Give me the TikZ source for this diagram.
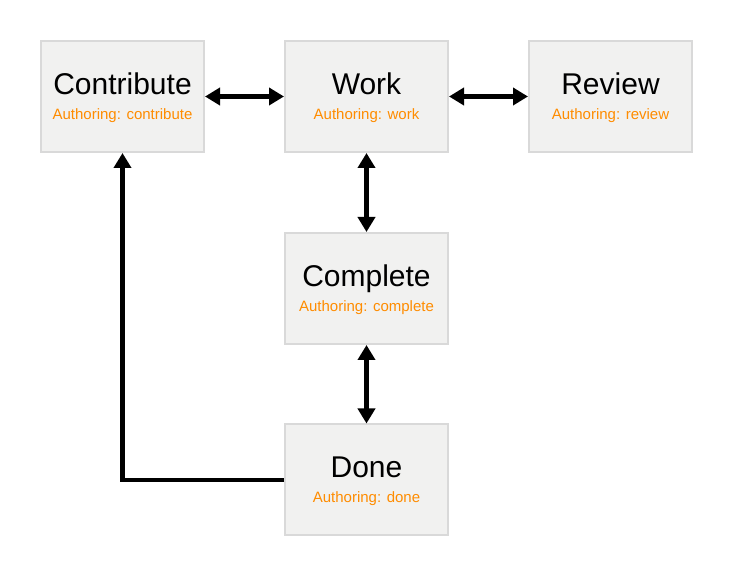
\documentclass[tikz,border=0pt]{standalone}
\usepackage{fontspec}
\setmainfont{Liberation Sans}
\usetikzlibrary{arrows.meta}
\definecolor{boxfill}{HTML}{F1F1F0}
\definecolor{boxline}{HTML}{D9D9D9}
\definecolor{sub}{HTML}{FF8C00}
\begin{document}
\begin{tikzpicture}[x=1pt,y=-1pt,
  state/.style={draw=boxline,fill=boxfill,line width=2pt,minimum width=163pt,minimum height=111pt,inner sep=0pt},
  title/.style={font=\fontsize{30}{34}\selectfont,text=black},
  subt/.style={font=\fontsize{15}{18}\selectfont,text=sub},
  conn/.style={line width=4.5pt,draw=black,{Triangle[length=15pt,width=17pt]}-{Triangle[length=15pt,width=17pt]}},
  oneway/.style={line width=4.5pt,draw=black,-{Triangle[length=15pt,width=17pt]}}]
\useasboundingbox (0,0) rectangle (732,577);
\node[state] (contribute) at (122.5,96.5) {};
\node[state] (work) at (366.5,96.5) {};
\node[state] (review) at (610.5,96.5) {};
\node[state] (complete) at (366.5,288.5) {};
\node[state] (done) at (366.5,480) {};
\foreach \n/\t/\s in {contribute/Contribute/contribute, work/Work/work, review/Review/review, complete/Complete/complete, done/Done/done}{
  \node[title,anchor=base] (\n-t) at ([yshift=2pt]\n.center) {\t};
  \node[subt,anchor=base] (\n-s) at ([yshift=-23pt]\n.center) {Authoring: \s};
}
\draw[conn] (contribute.east) -- (work.west);
\draw[conn] (work.east) -- (review.west);
\draw[conn] (work.south) -- (complete.north);
\draw[conn] (complete.south) -- (done.north);
\draw[oneway] (done.west) -| (contribute.south);
\end{tikzpicture}
\end{document}
